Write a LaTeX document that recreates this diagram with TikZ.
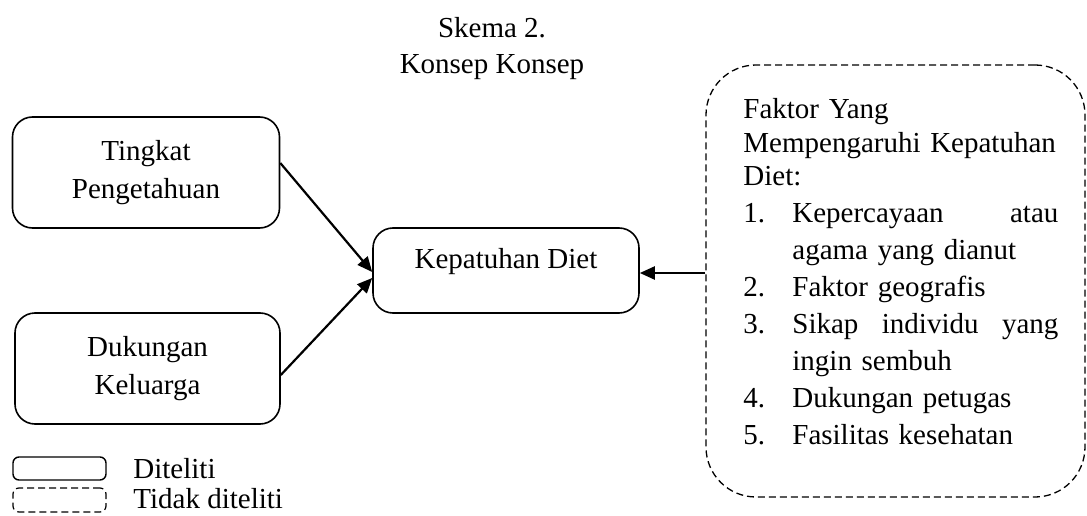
\documentclass[tikz,border=0pt]{standalone}
\usepackage{fontspec}
\setmainfont{Liberation Serif}
\usepackage{tikz}
\usetikzlibrary{arrows.meta}

\begin{document}
\begin{tikzpicture}[x=1pt, y=-1pt, thick,
    box/.style={draw, rounded corners=20pt, line width=1.6pt, align=center, inner sep=0pt},
    dashbox/.style={draw, rounded corners=50pt, dash pattern=on 7pt off 4pt, line width=1.3pt, inner sep=0pt},
    arr/.style={-{Triangle[length=15pt, width=13pt]}, line width=2.2pt},
    txt/.style={font=\fontsize{29}{38}\selectfont}]

  \useasboundingbox (0, 0) rectangle (1087, 516);

  \node[txt, align=center, anchor=north, inner sep=0pt, font=\fontsize{29}{36}\selectfont] (judul) at (492, 17)
    {Skema 2.\\ Konsep Konsep};

  \node[box, txt, minimum width=267pt, minimum height=111pt] (tingkat) at (146, 172.5)
    {Tingkat\\ Pengetahuan};
  \node[box, txt, minimum width=265pt, minimum height=111pt] (dukungan) at (147.5, 368.5)
    {Dukungan\\ Keluarga};
  \node[box, txt, minimum width=266pt, minimum height=85pt, text height=20pt, text depth=25pt] (kepatuhan) at (506, 270.5)
    {Kepatuhan Diet};

  % tidak diteliti
  \node[dashbox, minimum width=379pt, minimum height=432pt] (faktor) at (895.5, 281) {};
  \node[txt, anchor=north west, inner sep=0pt, text width=315pt, align=left, font=\fontsize{29}{33.5}\selectfont] (faktorteks) at (743, 98)
    {Faktor Yang\\
     Mempengaruhi Kepatuhan\\
     Diet:\\[3.5pt]
     \makebox[49pt][l]{1.}Kepercayaan\hfill atau\\[3.5pt]
     \hspace*{49pt}agama yang dianut\\[3.5pt]
     \makebox[49pt][l]{2.}Faktor geografis\\[3.5pt]
     \makebox[49pt][l]{3.}Sikap\hfill individu\hfill yang\\[3.5pt]
     \hspace*{49pt}ingin sembuh\\[3.5pt]
     \makebox[49pt][l]{4.}Dukungan petugas\\[3.5pt]
     \makebox[49pt][l]{5.}Fasilitas kesehatan};

  \draw[arr] ([yshift=9.5pt]tingkat.east) -- ([yshift=-1.5pt]kepatuhan.west);
  \draw[arr] ([yshift=-6.5pt]dukungan.east) -- ([yshift=-7.5pt]kepatuhan.west);
  \draw[arr] ([yshift=-2.5pt]kepatuhan.east -| faktor.west) -- ([yshift=-2.5pt]kepatuhan.east);

  % keterangan
  \node[box, rounded corners=6pt, line width=1.4pt, minimum width=93pt, minimum height=23pt] (legdite) at (59.5, 468.5) {};
  \node[dashbox, rounded corners=6pt, line width=1.2pt, minimum width=93pt, minimum height=24pt] (legtidak) at (59.5, 500) {};
  \node[txt, anchor=base west, inner sep=0pt] (ketdite) at (133, 478) {Diteliti};
  \node[txt, anchor=base west, inner sep=0pt] (kettidak) at (133, 508) {Tidak diteliti};

\end{tikzpicture}
\end{document}
